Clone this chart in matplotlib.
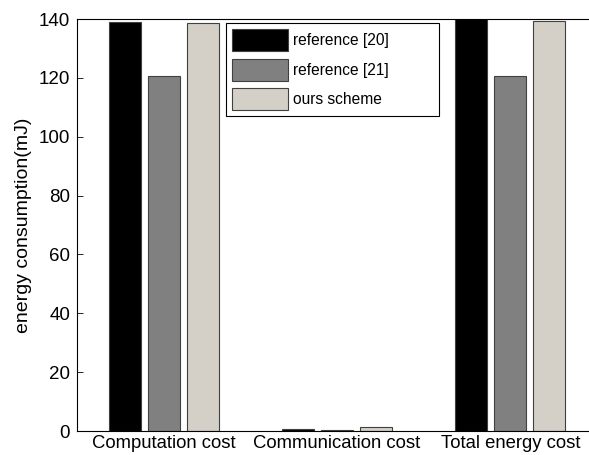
import numpy as np
import matplotlib.pyplot as plt

plt.rcParams['font.family'] = ['Liberation Sans', 'DejaVu Sans']

categories = ['Computation cost', 'Communication cost', 'Total energy cost']
series_names = ['reference [20]', 'reference [21]', 'ours scheme']
ref20 = [139.0, 0.8, 140.5]
ref21 = [120.7, 0.4, 120.8]
ours = [138.5, 1.3, 139.4]
colors = ['#000000', '#808080', '#d4d0c8']

fig = plt.figure(figsize=(5.89, 4.55), dpi=100)
# axes runs past the right edge, like the cropped original
ax = fig.add_axes([77 / 589, 1 - 431 / 455, 520 / 589, 412 / 455])

x = np.arange(1, len(categories) + 1)
w = 0.184
step = 0.225
for i, (vals, name) in enumerate(zip([ref20, ref21, ours], series_names)):
    ax.bar(x + (i - 1) * step, vals, width=w, color=colors[i],
           edgecolor='#404040', linewidth=0.8, label=name)

ax.set_xlim(0.5, 3.5)
ax.set_ylim(0, 140)
ax.set_yticks(range(0, 141, 20))
ax.set_xticks(x)
ax.set_xticklabels(categories, fontsize=13.3)
ax.tick_params(axis='y', direction='in', labelsize=13.5, length=4, width=0.6, pad=5)
ax.tick_params(axis='x', length=0, pad=3)
ax.set_ylabel('energy consumption(mJ)', fontsize=14)
ax.yaxis.set_label_coords(-0.087, 0.5)
ax.spines['right'].set_visible(False)
for s in ['top', 'left', 'bottom']:
    ax.spines[s].set_linewidth(0.8)

# legend box: x 226..439, y 23..117 in pixels
lx0, lx1, ly0, ly1 = 226, 439, 23, 117
leg = ax.legend(loc='upper left',
                bbox_to_anchor=((lx0 - 77) / 520, (431 - ly1) / 412,
                                (lx1 - lx0) / 520, (ly1 - ly0) / 412),
                mode='expand', fontsize=11.2, frameon=True, fancybox=False,
                framealpha=1, handlelength=3.6, handleheight=1.8,
                handletextpad=0.3, borderpad=0.4, labelspacing=0.47,
                borderaxespad=0)
leg.get_frame().set_edgecolor('black')
leg.get_frame().set_linewidth(0.8)

fig.savefig('out.png', dpi=100)
